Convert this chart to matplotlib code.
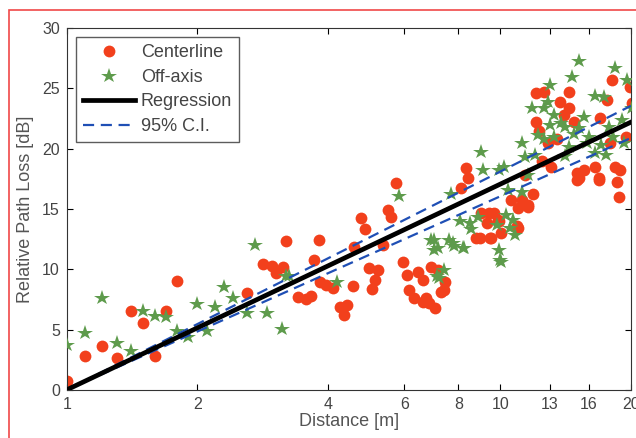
import numpy as np
import matplotlib.pyplot as plt
from matplotlib.patches import Rectangle

plt.rcParams['font.family'] = ['Liberation Sans', 'DejaVu Sans']

# centerline measurements (distance [m], relative path loss [dB])
center_d = [1.00, 1.10, 1.205, 1.305, 1.41, 1.50, 1.60, 1.69, 1.80, 2.61,
            2.83, 2.98, 3.03, 3.15, 3.21, 3.41, 3.56, 3.65, 3.71, 3.81,
            3.83, 3.96, 4.11, 4.26, 4.43, 4.35, 4.57, 4.59, 4.77, 4.87,
            4.97, 5.22, 5.14, 5.05, 5.50, 5.59, 5.74, 5.96, 6.09, 6.46,
            6.64, 6.16, 6.32, 6.64, 6.92, 7.19, 5.36, 6.85, 7.07, 7.41,
            7.30, 6.74, 7.46, 8.12, 8.34, 8.43, 8.99, 9.48, 9.33, 9.95,
            10.9, 9.04, 9.43, 9.89, 8.80, 9.53, 10.05, 11.0, 10.6, 11.6,
            11.9, 11.2, 11.6, 11.0, 9.68, 12.1, 12.6, 12.1, 12.3, 13.7,
            14.4, 14.4, 14.8, 18.1, 17.6, 19.9, 20.1, 12.9, 13.1, 15.0,
            15.6, 16.5, 16.9, 15.2, 18.4, 18.9, 18.6, 18.8, 17.9, 15.0,
            16.9, 12.5, 13.5, 17.0, 19.5, 11.4, 14.0]
center_pl = [0.75, 2.8, 3.6, 2.6, 6.5, 5.55, 2.8, 6.5, 9.0, 8.0,
             10.4, 10.3, 9.7, 10.2, 12.3, 7.7, 7.5, 7.8, 10.8, 12.4,
             8.9, 8.7, 8.45, 6.9, 7.0, 6.2, 8.6, 11.85, 14.25, 13.3,
             10.1, 9.9, 9.1, 8.4, 14.9, 14.3, 17.15, 10.6, 9.5, 9.8,
             9.1, 8.3, 7.6, 7.3, 10.2, 9.9, 12.0, 7.2, 6.8, 8.3,
             8.1, 7.6, 8.9, 16.7, 18.4, 17.6, 12.6, 12.6, 13.8, 14.0,
             13.6, 14.7, 14.7, 14.1, 12.6, 12.6, 13.0, 13.4, 15.7, 15.3,
             16.2, 15.7, 15.2, 15.1, 14.7, 24.6, 24.7, 22.2, 21.5, 23.9,
             24.7, 23.4, 22.2, 25.7, 24.0, 25.1, 23.8, 20.5, 18.5, 18.0,
             18.2, 18.5, 17.6, 17.6, 18.5, 18.2, 17.2, 16.0, 20.5, 17.4,
             17.4, 19.0, 20.8, 22.5, 21.0, 17.8, 22.8]

# off-axis measurements
off_d = [1.00, 1.10, 1.205, 1.305, 1.41, 1.50, 1.60, 1.69, 1.80, 1.90,
         2.00, 2.11, 2.20, 2.30, 2.42, 2.61, 2.71, 2.90, 3.13, 3.21,
         3.25, 4.19, 5.84, 6.92, 7.19, 7.22, 7.41, 7.15, 7.03, 7.62,
         7.83, 8.25, 7.78, 7.03, 8.21, 9.95, 10.0, 10.05, 9.84, 10.5,
         10.8, 8.08, 8.52, 8.57, 8.89, 10.3, 10.7, 7.70, 9.04, 9.13,
         11.8, 13.0, 12.6, 14.6, 15.2, 18.4, 19.6, 16.5, 17.3, 13.3,
         13.8, 12.2, 11.2, 11.4, 10.2, 14.1, 15.2, 15.6, 15.8, 17.1,
         17.8, 19.1, 20.1, 16.5, 14.4, 11.2, 10.4, 9.95, 12.0, 12.6,
         13.3, 14.1, 14.8, 16.0, 17.5, 18.2, 19.3, 13.0, 11.6, 12.9]
off_pl = [3.7, 4.7, 7.6, 3.9, 3.2, 6.5, 6.1, 6.0, 4.9, 4.4,
          7.1, 4.9, 6.9, 8.5, 7.6, 6.4, 12.0, 6.4, 5.05, 9.4,
          9.4, 8.9, 16.1, 12.4, 11.8, 9.3, 9.9, 9.4, 12.4, 12.4,
          11.9, 11.8, 12.2, 11.6, 11.8, 11.6, 10.8, 10.6, 13.7, 13.4,
          12.8, 14.0, 13.8, 13.3, 14.3, 14.5, 14.1, 16.2, 19.7, 18.2,
          23.4, 25.3, 23.4, 25.9, 27.3, 26.7, 25.7, 24.4, 24.3, 22.8,
          22.1, 21.1, 20.5, 19.3, 18.5, 21.8, 21.7, 22.6, 20.5, 20.3,
          21.8, 22.4, 23.4, 19.6, 20.1, 16.4, 16.6, 18.2, 19.5, 20.8,
          21.0, 19.4, 21.2, 21.0, 19.5, 21.0, 20.5, 22.0, 17.8, 23.9]

# regression through origin in log10(d), with 95% bounds on the slope
slope = 17.06
slope_lo = 16.05
slope_hi = 18.1

xticks = [1, 2, 4, 6, 8, 10, 13, 16, 20]

fig = plt.figure(figsize=(6.36, 4.38), dpi=100)
ax = fig.add_axes([0.105, 0.11, 0.887, 0.826])

fig.patches.append(Rectangle((9 / 636, -0.2), 1.2, 1.2 - 10 / 438,
                             transform=fig.transFigure, fill=False,
                             edgecolor='#f04848', linewidth=1.2))

ax.plot(center_d, center_pl, 'o', color='#f2401c', markersize=8.5,
        markeredgewidth=0, label='Centerline', zorder=2)
ax.plot(off_d, off_pl, '*', color='#5e9b4c', markersize=11.5,
        markeredgewidth=0, label='Off-axis', zorder=3)

d = np.logspace(0, np.log10(20), 100)
ax.plot(d, slope * np.log10(d), color='black', linewidth=3.4,
        label='Regression', zorder=5)
ax.plot(d, slope_hi * np.log10(d), '--', color='#1f4fb5', linewidth=1.6,
        dashes=(5, 3), label='95% C.I.', zorder=4)
ax.plot(d, slope_lo * np.log10(d), '--', color='#1f4fb5', linewidth=1.6,
        dashes=(5, 3), zorder=4)

ax.set_xscale('log')
ax.set_xlim(1, 20)
ax.set_ylim(0, 30)
ax.set_xticks(xticks)
ax.set_xticklabels([str(t) for t in xticks])
ax.minorticks_off()
ax.set_yticks([0, 5, 10, 15, 20, 25, 30])
ax.tick_params(direction='in', labelsize=11.5, labelcolor='#444444',
               length=4, top=True, right=True, pad=5)
for s in ax.spines.values():
    s.set_color('#333333')

ax.set_xlabel('Distance [m]', fontsize=13, color='#555555', labelpad=1)
ax.set_ylabel('Relative Path Loss [dB]', fontsize=13, color='#555555',
              labelpad=6)

leg = ax.legend(loc='upper left', fontsize=13, frameon=True, fancybox=False,
                edgecolor='#333333', handlelength=2.9, handletextpad=0.3,
                borderaxespad=0.5, labelspacing=0.42, borderpad=0.4)
leg.get_frame().set_linewidth(1.0)
for t in leg.get_texts():
    t.set_color('#444444')

fig.savefig('out.png', dpi=100)
